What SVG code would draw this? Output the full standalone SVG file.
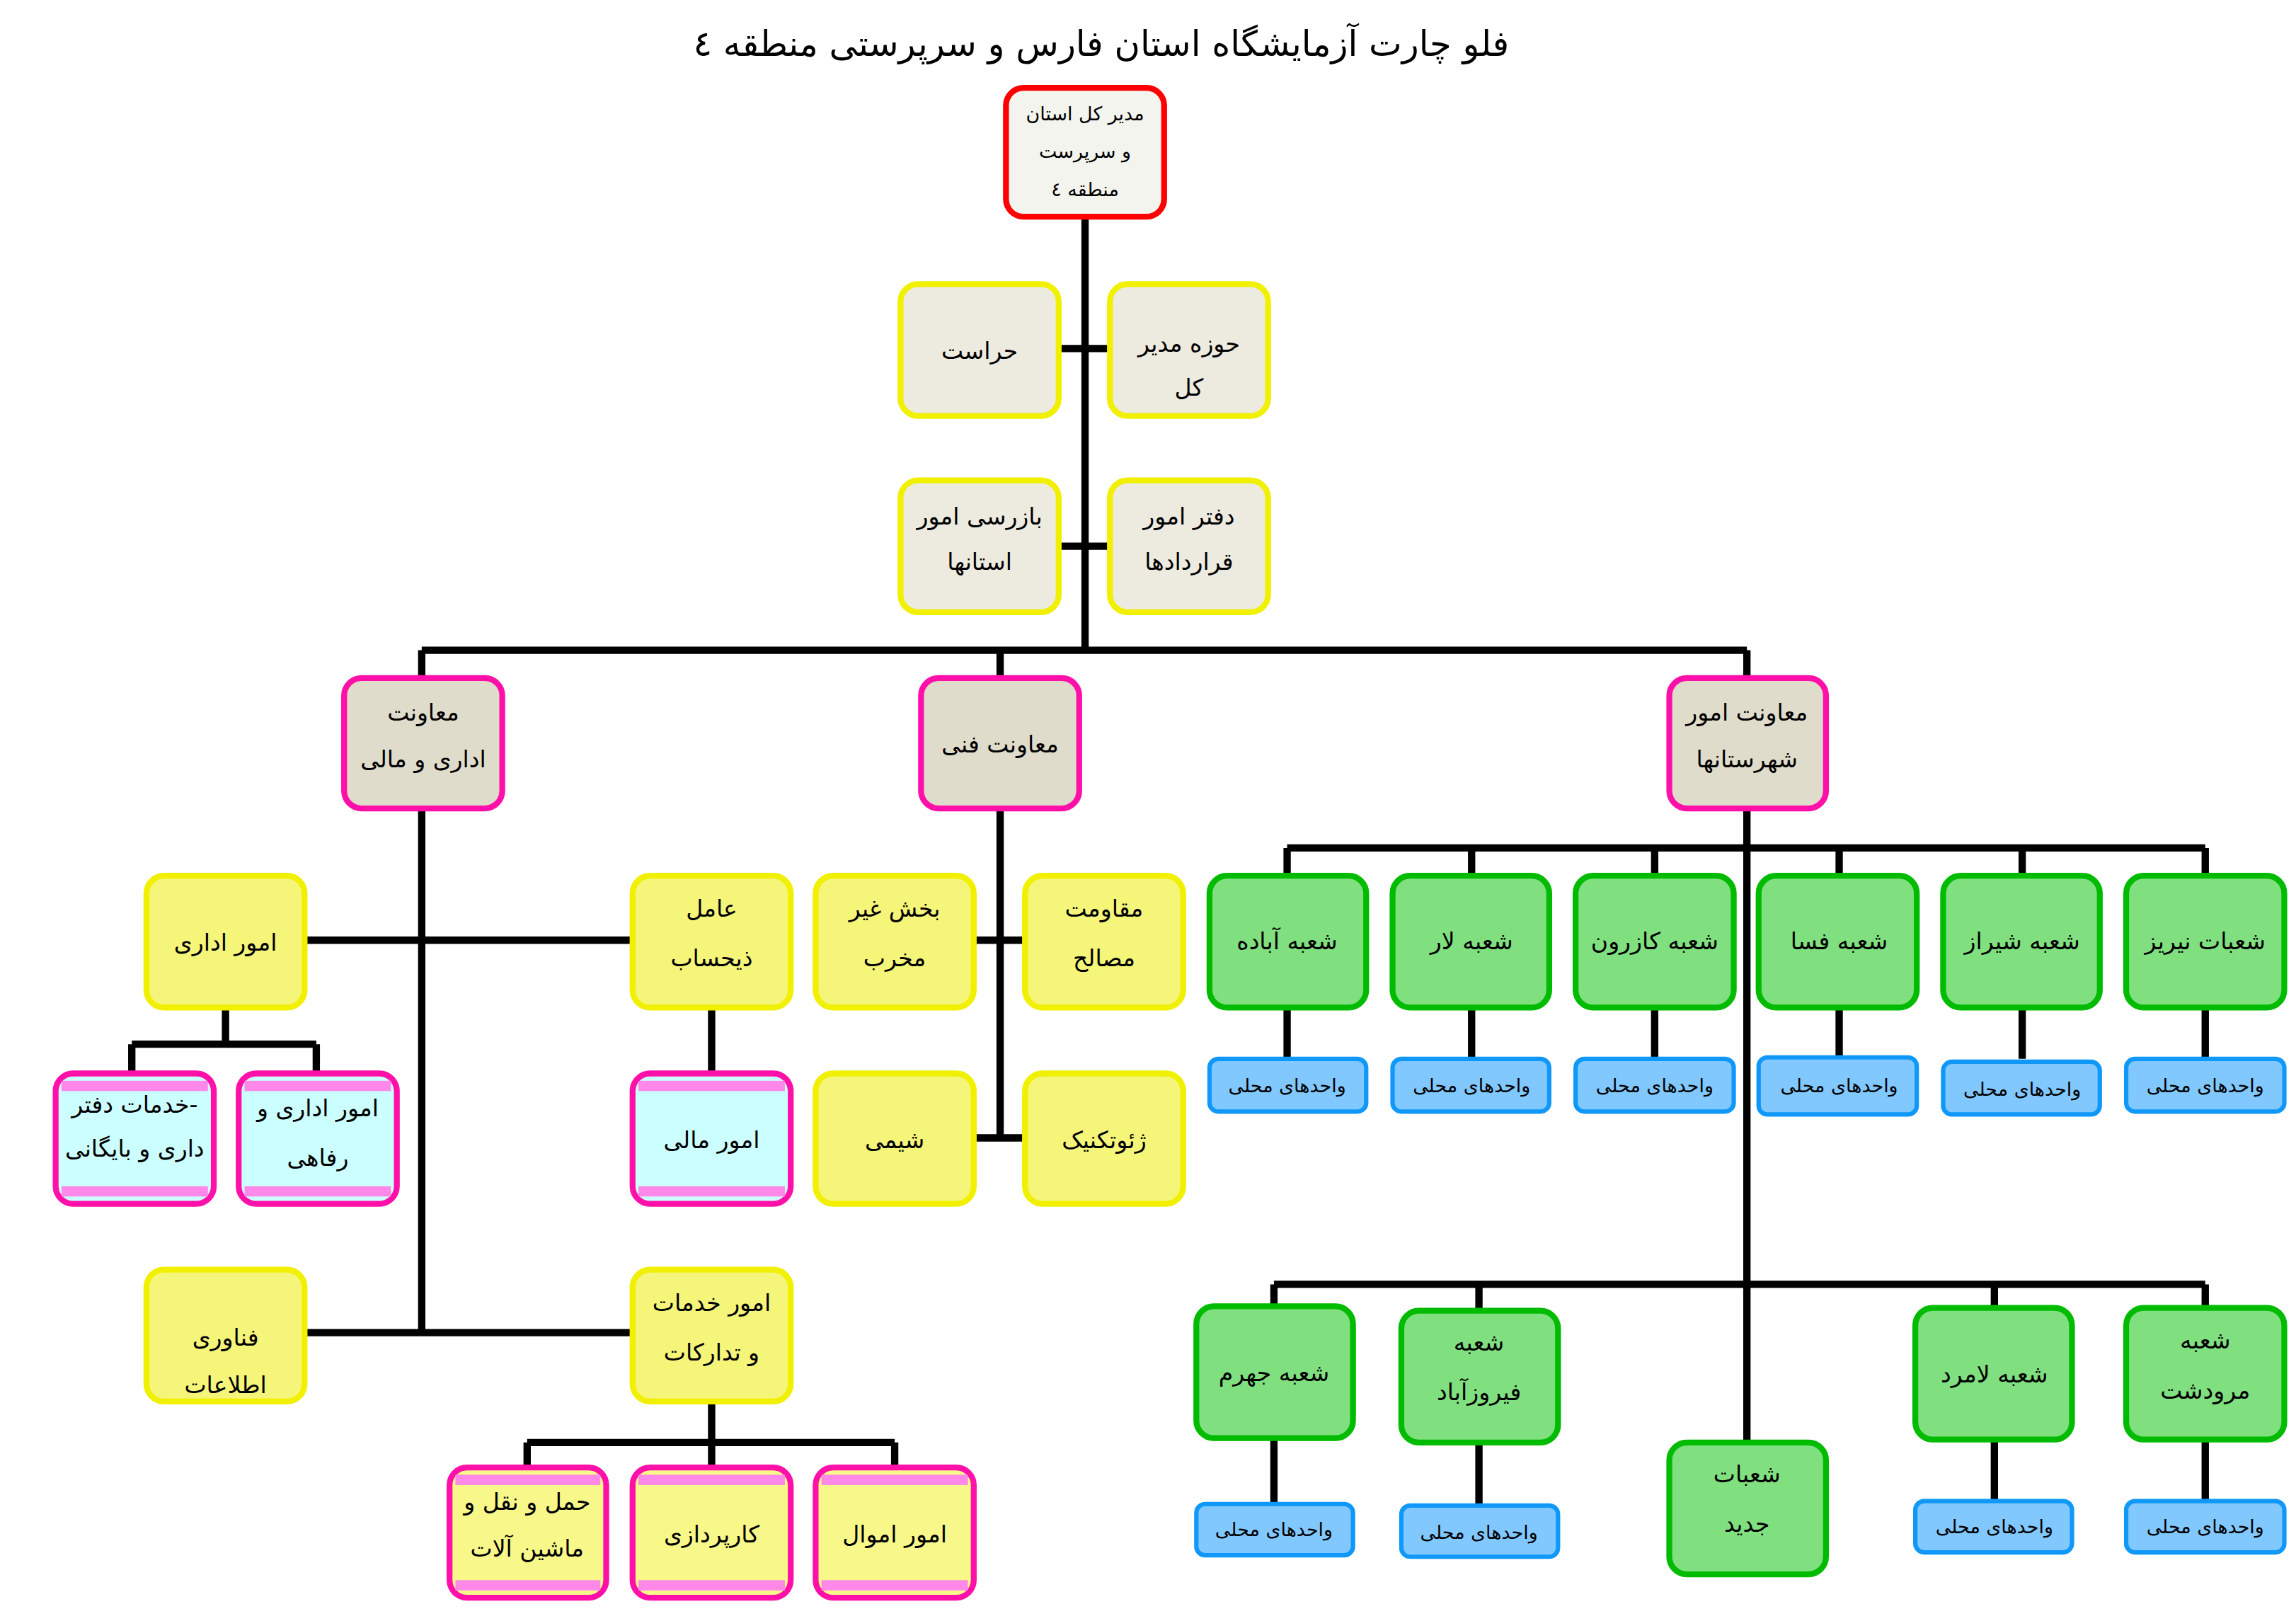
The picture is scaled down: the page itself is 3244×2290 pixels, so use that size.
<svg xmlns="http://www.w3.org/2000/svg" width="3244" height="2290" viewBox="0 0 3244 2290">
<style>
text{font-family:"DejaVu Sans","Noto Sans",sans-serif;text-anchor:middle;fill:#000}
.t{font-size:16px}.s{font-size:13px}.ti{font-size:24px}
.root{fill:#f4f4ef;stroke:#ff0000;stroke-width:4}
.y1{fill:#edebe0;stroke:#f0f000;stroke-width:4}
.m1{fill:#e0dccb;stroke:#ff10a8;stroke-width:4}
.y2{fill:#f5f57a;stroke:#f0f000;stroke-width:4}
.c{fill:#ccffff;stroke:#ff10a8;stroke-width:4}
.yy{fill:#f8f88a;stroke:#ff10a8;stroke-width:4}
.band{fill:#ff88e8}
.g{fill:#80e080;stroke:#00bb00;stroke-width:4}
.b{fill:#80c8ff;stroke:#1098f8;stroke-width:3}
.ln{stroke:#000;stroke-width:5;fill:none}
</style>
<rect width="3244" height="2290" fill="#fff"/>
<g transform="scale(2.0689)">
<text class="ti" x="752" y="38">فلو چارت آزمایشگاه استان فارس و سرپرستی منطقه ٤</text>
<g id="connectors">
<path class="ln" d="M741 148V444M723 238H758M723 373H758M288 444H1193M288 444V463M683 444V463M1193 444V463"/>
<path class="ln" d="M288 552V910M208 642H432M154 688V713M90 713H216M90 713V733M216 713V733M486 688V733M208 910H432M486 957V985M360 985H611M360 985V1002M486 985V1002M611 985V1002"/>
<path class="ln" d="M683 552V777M665 642H700M665 777H700"/>
<path class="ln" d="M1193 552V985M879 579H1506M879 579V598M1005 579V598M1130 579V598M1256 579V598M1381 579V598M1506 579V598M879 688V723M1005 688V723M1130 688V723M1256 688V723M1381 688V723M1506 688V723"/>
<path class="ln" d="M870 877H1506M870 877V892M1010 877V895M1362 877V893M1506 877V893M870 982V1027M1010 985V1028M1362 983V1025M1506 983V1025"/>
</g>
<g id="root"><rect class="root" x="687" y="60" width="108" height="88" rx="12"/><text class="s" x="741" y="82">مدیر کل استان</text><text class="s" x="741" y="108">و سرپرست</text><text class="s" x="741" y="134">منطقه ٤</text></g>
<g id="n-hozeh"><rect class="y1" x="758" y="194" width="108" height="90" rx="12"/><text class="t" x="812" y="240">حوزه مدیر</text><text class="t" x="812" y="270">کل</text></g>
<g id="n-herasat"><rect class="y1" x="615" y="194" width="108" height="90" rx="12"/><text class="t" x="669" y="245">حراست</text></g>
<g id="n-daftar"><rect class="y1" x="758" y="328" width="108" height="90" rx="12"/><text class="t" x="812" y="358">دفتر امور</text><text class="t" x="812" y="389">قراردادها</text></g>
<g id="n-bazrasi"><rect class="y1" x="615" y="328" width="108" height="90" rx="12"/><text class="t" x="669" y="358">بازرسی امور</text><text class="t" x="669" y="389">استانها</text></g>
<g id="n-edari-mali"><rect class="m1" x="235" y="463" width="108" height="89" rx="12"/><text class="t" x="289" y="492">معاونت</text><text class="t" x="289" y="524">اداری و مالی</text></g>
<g id="n-fani"><rect class="m1" x="629" y="463" width="108" height="89" rx="12"/><text class="t" x="683" y="514">معاونت فنی</text></g>
<g id="n-shahrestan"><rect class="m1" x="1140" y="463" width="107" height="89" rx="12"/><text class="t" x="1193" y="492">معاونت امور</text><text class="t" x="1193" y="524">شهرستانها</text></g>
<g id="n-omur-edari"><rect class="y2" x="100" y="598" width="108" height="90" rx="12"/><text class="t" x="154" y="649">امور اداری</text></g>
<g id="n-zihesab"><rect class="y2" x="432" y="598" width="108" height="90" rx="12"/><text class="t" x="486" y="626">عامل</text><text class="t" x="486" y="660">ذیحساب</text></g>
<g id="n-khadamat-daftar"><rect class="c" x="38" y="733" width="108" height="89" rx="12"/><rect class="band" x="42" y="738" width="100" height="7"/><rect class="band" x="42" y="810" width="100" height="7"/><text class="t" x="92" y="760">خدمات دفتر-</text><text class="t" x="92" y="790">داری و بایگانی</text></g>
<g id="n-refahi"><rect class="c" x="163" y="733" width="108" height="89" rx="12"/><rect class="band" x="167" y="738" width="100" height="7"/><rect class="band" x="167" y="810" width="100" height="7"/><text class="t" x="217" y="762">امور اداری و</text><text class="t" x="217" y="796">رفاهی</text></g>
<g id="n-mali"><rect class="c" x="432" y="733" width="108" height="89" rx="12"/><rect class="band" x="436" y="738" width="100" height="7"/><rect class="band" x="436" y="810" width="100" height="7"/><text class="t" x="486" y="784">امور مالی</text></g>
<g id="n-fanavari"><rect class="y2" x="100" y="867" width="108" height="90" rx="12"/><text class="t" x="154" y="919">فناوری</text><text class="t" x="154" y="951">اطلاعات</text></g>
<g id="n-tadarokat"><rect class="y2" x="432" y="867" width="108" height="90" rx="12"/><text class="t" x="486" y="895">امور خدمات</text><text class="t" x="486" y="929">و تدارکات</text></g>
<g id="n-haml"><rect class="yy" x="307" y="1002" width="107" height="89" rx="12"/><rect class="band" x="311" y="1007" width="99" height="7"/><rect class="band" x="311" y="1079" width="99" height="7"/><text class="t" x="360" y="1031">حمل و نقل و</text><text class="t" x="360" y="1063">ماشین آلات</text></g>
<g id="n-karpardazi"><rect class="yy" x="432" y="1002" width="108" height="89" rx="12"/><rect class="band" x="436" y="1007" width="100" height="7"/><rect class="band" x="436" y="1079" width="100" height="7"/><text class="t" x="486" y="1053">کارپردازی</text></g>
<g id="n-amval"><rect class="yy" x="557" y="1002" width="108" height="89" rx="12"/><rect class="band" x="561" y="1007" width="100" height="7"/><rect class="band" x="561" y="1079" width="100" height="7"/><text class="t" x="611" y="1053">امور اموال</text></g>
<g id="n-gheir-makhreb"><rect class="y2" x="557" y="598" width="108" height="90" rx="12"/><text class="t" x="611" y="626">بخش غیر</text><text class="t" x="611" y="660">مخرب</text></g>
<g id="n-moghavemat"><rect class="y2" x="700" y="598" width="108" height="90" rx="12"/><text class="t" x="754" y="626">مقاومت</text><text class="t" x="754" y="660">مصالح</text></g>
<g id="n-shimi"><rect class="y2" x="557" y="733" width="108" height="89" rx="12"/><text class="t" x="611" y="784">شیمی</text></g>
<g id="n-geotech"><rect class="y2" x="700" y="733" width="108" height="89" rx="12"/><text class="t" x="754" y="784">ژئوتکنیک</text></g>
<g id="n-abadeh"><rect class="g" x="826" y="598" width="107" height="90" rx="12"/><text class="t" x="879" y="648">شعبه آباده</text></g>
<g id="n-lar"><rect class="g" x="951" y="598" width="107" height="90" rx="12"/><text class="t" x="1005" y="648">شعبه لار</text></g>
<g id="n-kazerun"><rect class="g" x="1076" y="598" width="108" height="90" rx="12"/><text class="t" x="1130" y="648">شعبه کازرون</text></g>
<g id="n-fasa"><rect class="g" x="1201" y="598" width="108" height="90" rx="12"/><text class="t" x="1256" y="648">شعبه فسا</text></g>
<g id="n-shiraz"><rect class="g" x="1327" y="598" width="107" height="90" rx="12"/><text class="t" x="1381" y="648">شعبه شیراز</text></g>
<g id="n-neyriz"><rect class="g" x="1452" y="598" width="108" height="90" rx="12"/><text class="t" x="1506" y="648">شعبات نیریز</text></g>
<g id="u1"><rect class="b" x="826" y="723" width="107" height="36" rx="6"/><text class="s" x="879" y="746">واحدهای محلی</text></g>
<g id="u2"><rect class="b" x="951" y="723" width="107" height="36" rx="6"/><text class="s" x="1005" y="746">واحدهای محلی</text></g>
<g id="u3"><rect class="b" x="1076" y="723" width="108" height="36" rx="6"/><text class="s" x="1130" y="746">واحدهای محلی</text></g>
<g id="u4"><rect class="b" x="1201" y="722" width="108" height="39" rx="6"/><text class="s" x="1256" y="746">واحدهای محلی</text></g>
<g id="u5"><rect class="b" x="1327" y="725" width="107" height="36" rx="6"/><text class="s" x="1381" y="748">واحدهای محلی</text></g>
<g id="u6"><rect class="b" x="1452" y="723" width="108" height="36" rx="6"/><text class="s" x="1506" y="746">واحدهای محلی</text></g>
<g id="n-jahrom"><rect class="g" x="817" y="892" width="107" height="90" rx="12"/><text class="t" x="870" y="943">شعبه جهرم</text></g>
<g id="n-firuzabad"><rect class="g" x="957" y="895" width="107" height="90" rx="12"/><text class="t" x="1010" y="922">شعبه</text><text class="t" x="1010" y="956">فیروزآباد</text></g>
<g id="n-jadid"><rect class="g" x="1140" y="985" width="107" height="90" rx="12"/><text class="t" x="1193" y="1012">شعبات</text><text class="t" x="1193" y="1046">جدید</text></g>
<g id="n-lamerd"><rect class="g" x="1308" y="893" width="107" height="90" rx="12"/><text class="t" x="1362" y="944">شعبه لامرد</text></g>
<g id="n-marvdasht"><rect class="g" x="1452" y="893" width="108" height="90" rx="12"/><text class="t" x="1506" y="921">شعبه</text><text class="t" x="1506" y="955">مرودشت</text></g>
<g id="u7"><rect class="b" x="817" y="1027" width="107" height="35" rx="6"/><text class="s" x="870" y="1049">واحدهای محلی</text></g>
<g id="u8"><rect class="b" x="957" y="1028" width="107" height="35" rx="6"/><text class="s" x="1010" y="1051">واحدهای محلی</text></g>
<g id="u9"><rect class="b" x="1308" y="1025" width="107" height="35" rx="6"/><text class="s" x="1362" y="1047">واحدهای محلی</text></g>
<g id="u10"><rect class="b" x="1452" y="1025" width="108" height="35" rx="6"/><text class="s" x="1506" y="1047">واحدهای محلی</text></g>
</g>
</svg>
